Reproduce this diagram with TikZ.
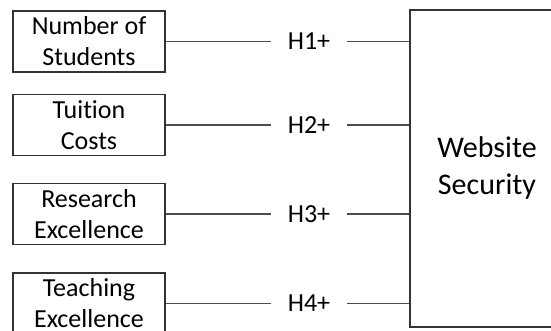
\documentclass[tikz,border=0pt]{standalone}
\usepackage{fontspec}
\setmainfont{Carlito}[Ligatures=NoCommon]
\begin{document}
\begin{tikzpicture}[x=1pt,y=-1pt,
  factor/.style={draw=black!80, line width=1.3pt, minimum width=152pt, minimum height=61pt,
    align=center, font=\fontsize{26}{31}\selectfont, inner sep=0pt},
  hyp/.style={font=\fontsize{26}{31}\selectfont, inner xsep=17pt, inner ysep=0pt},
  outcome/.style={draw=black!80, line width=1.3pt, minimum width=154pt, minimum height=317pt,
    align=center, font=\fontsize{30}{37}\selectfont, inner sep=0pt},
  link/.style={draw=black!70, line width=1.3pt}]
\clip (0,0) rectangle (551,331);
\node[factor] (f1) at (89,41.5) {Number of\\Students};
\node[factor] (f2) at (89,125) {Tuition\\Costs};
\node[factor] (f3) at (89,214) {Research\\Excellence};
\node[factor] (f4) at (89,303.5) {Teaching\\Excellence};
\node[outcome] (ws) at (487,168.5) {Website\\Security};
\node[hyp] (h1) at (309,41.5) {H1+};
\node[hyp] (h2) at (309,125) {H2+};
\node[hyp] (h3) at (309,214) {H3+};
\node[hyp] (h4) at (309,303.5) {H4+};
\foreach \i in {1,2,3,4}{
  \draw[link] (f\i.east) -- (h\i.west);
  \draw[link] (h\i.east) -- (h\i.east -| ws.west);
}
\end{tikzpicture}
\end{document}
